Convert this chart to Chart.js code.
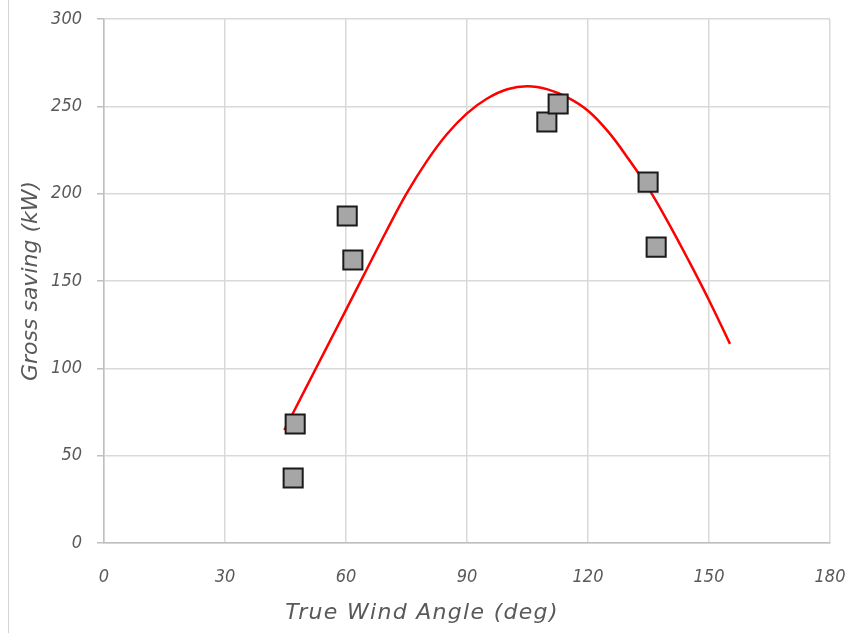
<!DOCTYPE html>
<html>
<head>
<meta charset="utf-8">
<script src="https://cdn.jsdelivr.net/npm/chart.js@4/dist/chart.umd.min.js"></script>
<style>
  html, body { margin: 0; padding: 0; background: #fff; }
  #wrap { position: relative; width: 850px; height: 633px; }
  #edge { position: absolute; left: 8px; top: 0; width: 1px; height: 633px; background: #d4d4d4; }
</style>
</head>
<body>
<div id="wrap">
  <canvas id="myChart" width="850" height="633"></canvas>
  <div id="edge"></div>
</div>
<script>
// measured points (deg, kW)
var angles  = [46.9, 47.4, 60.3, 61.7, 109.8, 112.6, 134.9, 136.9];
var savings = [37.2, 68.1, 187.2, 162, 241, 251.3, 206.6, 169.4];

// red trend curve
var fitAngles  = [44.7, 50, 55, 60, 65, 70, 75, 80, 85, 90, 95, 100, 105, 110, 115, 120, 125, 130, 135, 140, 145, 150, 155.2];
var fitSavings = [64.7, 88.5, 111, 133.5, 156, 178.5, 200, 218.5, 234, 246, 254.5, 259.8, 261.5, 259.7, 255, 247.5, 235.5, 220, 203, 183, 161.5, 139, 114];

var xTicks = [0, 30, 60, 90, 120, 150, 180];
var yTicks = [0, 50, 100, 150, 200, 250, 300];

var tickFont = {family: "'Liberation Sans Narrow', 'DejaVu Sans Condensed', sans-serif", size: 18, style: "italic"};
var titleFont = "italic 22px 'DejaVu Sans', sans-serif";
var grey = "#595959";

function pairs(xs, ys) {
  return xs.map(function (x, i) { return {x: x, y: ys[i]}; });
}

// axis titles drawn at their spots
var axisTitles = {
  id: "axisTitles",
  afterDraw: function (chart) {
    var ctx = chart.ctx, a = chart.chartArea;
    ctx.save();
    ctx.fillStyle = grey;
    ctx.font = titleFont;
    ctx.textAlign = "center";
    ctx.textBaseline = "middle";
    ctx.letterSpacing = "1.3px";
    ctx.fillText("True Wind Angle (deg)", a.left + (a.right - a.left) * 0.438, 613);
    ctx.letterSpacing = "0px";
    ctx.translate(31, (a.top + a.bottom) / 2);
    ctx.rotate(-Math.PI / 2);
    ctx.fillText("Gross saving (kW)", 0, 0);
    ctx.restore();
  }
};

new Chart("myChart", {
  type: "scatter",
  data: {
    datasets: [{
      label: "Gross saving",
      data: pairs(angles, savings),
      pointStyle: "rect",
      pointRadius: 13.5,
      backgroundColor: "#a6a6a6",
      borderColor: "#1a1a1a",
      borderWidth: 2
    }, {
      label: "Fit",
      data: pairs(fitAngles, fitSavings),
      showLine: true,
      pointRadius: 0,
      borderColor: "#ff0000",
      borderWidth: 2.5,
      tension: 0.4,
      fill: false
    }]
  },
  options: {
    responsive: false,
    animation: false,
    layout: {padding: {left: 0, right: 20, top: 19, bottom: 0}},
    plugins: {legend: {display: false}, tooltip: {enabled: false}},
    scales: {
      x: {
        type: "linear", min: 0, max: 180,
        afterBuildTicks: function (s) { s.ticks = xTicks.map(function (v) { return {value: v}; }); },
        afterFit: function (s) { s.height = 633 - 543; s.paddingLeft = 0; s.paddingRight = 0; },
        grid: {color: "#d9d9d9", lineWidth: 1.5, drawTicks: false},
        border: {color: "#bfbfbf", width: 1.5},
        ticks: {color: grey, font: tickFont, padding: 24, maxRotation: 0}
      },
      y: {
        type: "linear", min: 0, max: 300,
        afterBuildTicks: function (s) { s.ticks = yTicks.map(function (v) { return {value: v}; }); },
        afterFit: function (s) { s.width = 104; s.paddingTop = 0; s.paddingBottom = 0; },
        grid: {color: "#d9d9d9", lineWidth: 1.5, tickLength: 7, tickColor: "#bfbfbf"},
        border: {color: "#bfbfbf", width: 1.5},
        ticks: {color: grey, font: tickFont, padding: 15}
      }
    }
  },
  plugins: [axisTitles]
});
</script>
</body>
</html>
